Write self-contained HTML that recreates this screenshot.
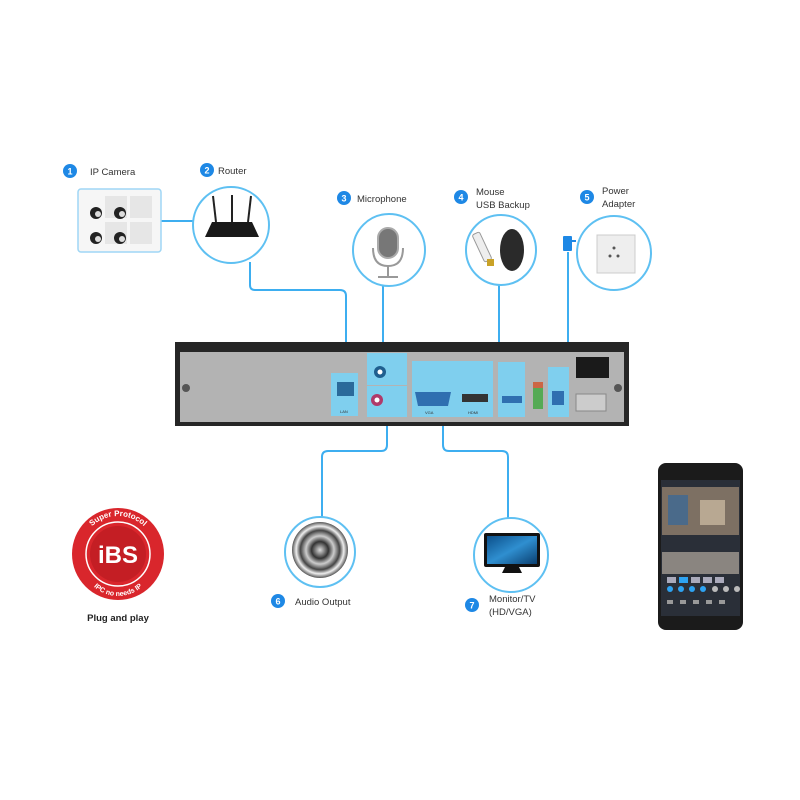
<!DOCTYPE html>
<html><head><meta charset="utf-8"><style>
html,body{margin:0;padding:0;background:#fff;}
svg{display:block;}
text{font-family:"Liberation Sans",sans-serif;fill:#333;font-size:9.5px;}
.b{fill:#1e88e5;}
.bt{fill:#fff;font-size:9px;font-weight:bold;text-anchor:middle;}
.ln{stroke:#3daef0;stroke-width:2;fill:none;}
.cir{stroke:#5ec0f2;stroke-width:2;fill:#fff;}
</style></head><body>
<svg width="800" height="800" viewBox="0 0 800 800" xmlns="http://www.w3.org/2000/svg">
<defs>
<radialGradient id="sp" cx="50%" cy="50%" r="50%"><stop offset="0" stop-color="#ddd"/><stop offset="0.3" stop-color="#333"/><stop offset="0.5" stop-color="#ccc"/><stop offset="0.7" stop-color="#444"/><stop offset="0.85" stop-color="#eee"/><stop offset="1" stop-color="#555"/></radialGradient>
<linearGradient id="mon" x1="0" y1="0" x2="1" y2="1"><stop offset="0" stop-color="#0b4f8a"/><stop offset="0.5" stop-color="#2f8fd0"/><stop offset="1" stop-color="#0a3f70"/></linearGradient>
<path id="arcT" d="M80 554 A38 38 0 0 1 156 554"/>
<path id="arcB" d="M82 560 A36 36 0 0 0 154 560"/>
</defs>

<!-- connectors -->
<path class="ln" d="M161 221 H193"/>
<path class="ln" d="M250 262 V285 Q250 290 255 290 H340 Q346 290 346 296 V372"/>
<path class="ln" d="M383 286 V362"/>
<path class="ln" d="M499 285 V365"/>
<path class="ln" d="M568 252 V365"/>
<path class="ln" d="M387 420 V445 Q387 451 381 451 H328 Q322 451 322 457 V517"/>
<path class="ln" d="M443 420 V445 Q443 451 449 451 H502 Q508 451 508 457 V519"/>

<!-- 1 IP camera -->
<circle class="b" cx="70" cy="171" r="7"/><text class="bt" x="70" y="174.5">1</text>
<text x="90" y="175">IP Camera</text>
<rect x="78" y="189" width="83" height="63" rx="3" fill="#f6f6f6" stroke="#9fd6f5" stroke-width="1.5"/>
<g fill="#e6e6e6"><rect x="105" y="196" width="22" height="22"/><rect x="130" y="196" width="22" height="22"/><rect x="105" y="222" width="22" height="22"/><rect x="130" y="222" width="22" height="22"/></g>
<g fill="#222"><circle cx="96" cy="213" r="6"/><circle cx="120" cy="213" r="6"/><circle cx="96" cy="238" r="6"/><circle cx="120" cy="238" r="6"/></g>
<g fill="#ddd"><circle cx="98" cy="214" r="3"/><circle cx="122" cy="214" r="3"/><circle cx="98" cy="239" r="3"/><circle cx="122" cy="239" r="3"/></g>

<!-- 2 Router -->
<circle class="b" cx="207" cy="170" r="7"/><text class="bt" x="207" y="173.5">2</text>
<text x="218" y="174">Router</text>
<circle class="cir" cx="231" cy="225" r="38"/>
<g stroke="#222" stroke-width="2"><line x1="213" y1="196" x2="216" y2="222"/><line x1="232" y1="195" x2="232" y2="222"/><line x1="251" y1="196" x2="248" y2="222"/></g>
<path d="M205 237 L212 222 H252 L259 237 Z" fill="#1a1a1a"/>

<!-- 3 Microphone -->
<circle class="b" cx="344" cy="198" r="7"/><text class="bt" x="344" y="201.5">3</text>
<text x="357" y="202">Microphone</text>
<circle class="cir" cx="389" cy="250" r="36"/>
<rect x="378" y="228" width="20" height="30" rx="10" fill="#777" stroke="#aaa" stroke-width="2"/>
<path d="M373 248 Q373 266 388 266 Q403 266 403 248" stroke="#999" stroke-width="2" fill="none"/>
<line x1="388" y1="266" x2="388" y2="276" stroke="#999" stroke-width="2"/>
<line x1="378" y1="277" x2="398" y2="277" stroke="#999" stroke-width="2"/>

<!-- 4 Mouse -->
<circle class="b" cx="461" cy="197" r="7"/><text class="bt" x="461" y="200.5">4</text>
<text x="476" y="195">Mouse</text><text x="476" y="208">USB Backup</text>
<circle class="cir" cx="501" cy="250" r="35"/>
<rect x="478" y="232" width="8" height="30" rx="2" fill="#eee" stroke="#999" transform="rotate(-25 482 247)"/>
<rect x="487" y="259" width="7" height="7" fill="#c9a227"/>
<ellipse cx="512" cy="250" rx="12" ry="21" fill="#2a2a2a"/>

<!-- 5 Power -->
<circle class="b" cx="587" cy="197" r="7"/><text class="bt" x="587" y="200.5">5</text>
<text x="602" y="194">Power</text><text x="602" y="207">Adapter</text>
<rect x="563" y="236" width="9" height="15" rx="1" fill="#1e88e5"/>
<rect x="572" y="240" width="4" height="2" fill="#1e88e5"/>
<circle class="cir" cx="614" cy="253" r="37"/>
<rect x="597" y="235" width="38" height="38" fill="#eee" stroke="#ccc"/>
<g fill="#555"><circle cx="614" cy="248" r="1.5"/><circle cx="610" cy="256" r="1.5"/><circle cx="618" cy="256" r="1.5"/></g>

<!-- NVR -->
<rect x="175" y="342" width="454" height="84" fill="#262626"/>
<rect x="180" y="352" width="444" height="70" fill="#b3b3b3"/>
<circle cx="186" cy="388" r="4" fill="#555"/><circle cx="618" cy="388" r="4" fill="#555"/>
<g fill="#7fcfee">
<rect x="331" y="373" width="27" height="43"/>
<rect x="367" y="353" width="40" height="32"/>
<rect x="367" y="386" width="40" height="31"/>
<rect x="412" y="361" width="81" height="56"/>
<rect x="498" y="362" width="27" height="55"/>
<rect x="548" y="367" width="21" height="50"/>
</g>
<rect x="337" y="382" width="17" height="14" fill="#2a6a9a"/>
<circle cx="380" cy="372" r="6" fill="#1f5f8f"/><circle cx="380" cy="372" r="2.5" fill="#fff"/>
<circle cx="377" cy="400" r="6" fill="#b03a6a"/><circle cx="377" cy="400" r="2.5" fill="#fff"/>
<path d="M415 392 h36 l-3 14 h-30 z" fill="#2f6fb0"/>
<rect x="462" y="394" width="26" height="8" fill="#333"/>
<rect x="502" y="396" width="20" height="7" fill="#2f6fb0"/>
<rect x="533" y="385" width="10" height="24" fill="#5a5"/><rect x="533" y="382" width="10" height="6" fill="#c64"/>
<rect x="552" y="391" width="12" height="14" fill="#2f6fb0"/>
<rect x="576" y="357" width="33" height="21" fill="#1a1a1a"/>
<rect x="576" y="394" width="30" height="17" fill="#ccc" stroke="#888"/>
<g><text x="340" y="413" style="font-size:4px">LAN</text><text x="425" y="414" style="font-size:4px">VGA</text><text x="468" y="414" style="font-size:4px">HDMI</text></g>

<!-- 6 Audio -->
<circle class="cir" cx="320" cy="552" r="35"/>
<circle cx="320" cy="550" r="28" fill="url(#sp)"/>
<circle class="b" cx="278" cy="601" r="7"/><text class="bt" x="278" y="604.5">6</text>
<text x="295" y="605">Audio Output</text>

<!-- 7 Monitor -->
<circle class="cir" cx="511" cy="555" r="37"/>
<rect x="484" y="533" width="56" height="34" rx="2" fill="#111"/>
<rect x="487" y="536" width="50" height="28" fill="url(#mon)"/>
<path d="M505 567 h14 l3 6 h-20 z" fill="#111"/>
<circle class="b" cx="472" cy="605" r="7"/><text class="bt" x="472" y="608.5">7</text>
<text x="489" y="602">Monitor/TV</text><text x="489" y="615">(HD/VGA)</text>

<!-- iBS logo -->
<circle cx="118" cy="554" r="46" fill="#d9262c"/>
<circle cx="118" cy="554" r="32" fill="none" stroke="#fff" stroke-width="1.5"/>
<circle cx="118" cy="554" r="28" fill="#c41e24"/>
<text style="font-size:8px;font-weight:bold;fill:#fff"><textPath href="#arcT" startOffset="50%" text-anchor="middle">Super Protocol</textPath></text>
<text style="font-size:7px;font-weight:bold;fill:#fff"><textPath href="#arcB" startOffset="50%" text-anchor="middle">IPC no needs IP</textPath></text>
<text x="118" y="563" text-anchor="middle" style="font-size:24px;font-weight:bold;fill:#fff">iBS</text>
<text x="118" y="621" text-anchor="middle" style="font-size:9.5px;font-weight:bold;fill:#222">Plug and play</text>

<!-- Phone -->
<rect x="658" y="463" width="85" height="167" rx="8" fill="#1b1b1b"/>
<rect x="661" y="480" width="79" height="136" fill="#2a2f38"/>
<rect x="662" y="487" width="77" height="48" fill="#7d7063"/>
<rect x="668" y="495" width="20" height="30" fill="#4a6a8a"/>
<rect x="700" y="500" width="25" height="25" fill="#b8a892"/>
<rect x="662" y="552" width="77" height="22" fill="#8a8580"/>
<g fill="#aab"><rect x="667" y="577" width="9" height="6"/><rect x="679" y="577" width="9" height="6" fill="#2ea3f2"/><rect x="691" y="577" width="9" height="6"/><rect x="703" y="577" width="9" height="6"/><rect x="715" y="577" width="9" height="6"/></g>
<g fill="#2ea3f2"><circle cx="670" cy="589" r="3"/><circle cx="681" cy="589" r="3"/><circle cx="692" cy="589" r="3"/><circle cx="703" cy="589" r="3"/></g>
<g fill="#bbb"><circle cx="715" cy="589" r="3"/><circle cx="726" cy="589" r="3"/><circle cx="737" cy="589" r="3"/></g>
<g fill="#999"><rect x="667" y="600" width="6" height="4"/><rect x="680" y="600" width="6" height="4"/><rect x="693" y="600" width="6" height="4"/><rect x="706" y="600" width="6" height="4"/><rect x="719" y="600" width="6" height="4"/></g>
</svg>
</body></html>
